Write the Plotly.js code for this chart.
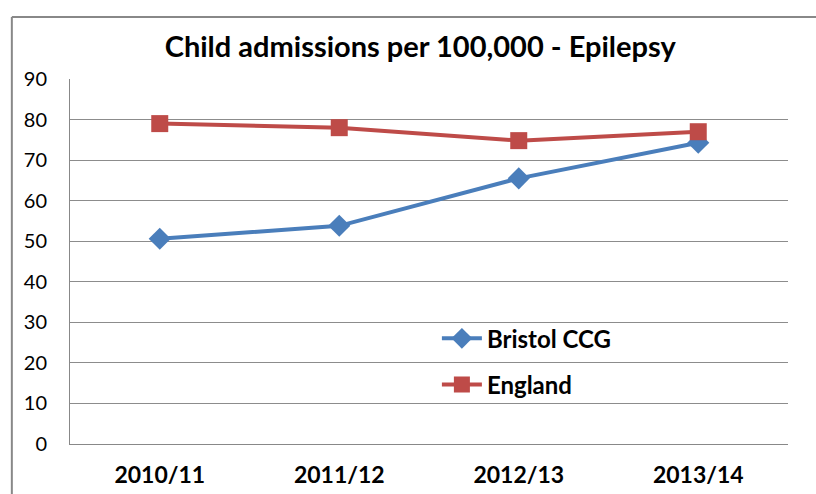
<!DOCTYPE html>
<html><head><meta charset="utf-8">
<script src="https://cdn.plot.ly/plotly-3.0.1.min.js"></script>
<style>html,body{margin:0;padding:0;background:#fff}#chart{width:816px;height:494px}</style>
</head><body><div id="chart"></div>
<script>
const categories = ["2010/11", "2011/12", "2012/13", "2013/14"];
const bristol = [50.6, 53.8, 65.5, 74.3];
const england = [79.0, 78.0, 74.8, 77.0];
const yTicks = [0, 10, 20, 30, 40, 50, 60, 70, 80, 90];

const font = "Lato, 'Open Sans', sans-serif";
const traces = [
  {x: categories, y: bristol, name: "Bristol CCG", type: "scatter", mode: "lines+markers",
   legendgroup: "a",
   line: {color: "#4A7EBB", width: 4}, marker: {symbol: "diamond", size: 17, color: "#4A7EBB"}},
  {x: categories, y: england, name: "England", type: "scatter", mode: "lines+markers",
   legendgroup: "b",
   line: {color: "#BE4B48", width: 4}, marker: {symbol: "square", size: 17, color: "#BE4B48"}}
];
const layout = {
  width: 816, height: 494,
  margin: {l: 70, r: 28, t: 79, b: 50},
  paper_bgcolor: "#fff", plot_bgcolor: "#fff",
  title: {text: "<b>Child admissions per 100,000 - Epilepsy</b>", font: {family: font, size: 29, color: "#000"},
          x: 0.515, xanchor: "center", y: 0.905, yanchor: "middle"},
  xaxis: {type: "category", range: [-0.5, 3.5], showgrid: false, showline: true, linecolor: "#888", linewidth: 1,
          ticks: "", tickfont: {family: font, size: 23, color: "#000", weight: "bold"}, ticklabelstandoff: 10, fixedrange: true},
  yaxis: {range: [0, 90], tickvals: yTicks, showgrid: true, gridcolor: "#8c8c8c", gridwidth: 1,
          showline: true, linecolor: "#888", linewidth: 1, ticks: "", zeroline: false,
          tickfont: {family: font, size: 20, color: "#000"}, ticklabelstandoff: 18, mirror: false},
  showlegend: true,
  legend: {x: 0.511, y: 0.35, xanchor: "left", yanchor: "top", bgcolor: "rgba(0,0,0,0)",
           font: {family: font, size: 24, color: "#000", weight: "bold"}, tracegroupgap: 12, itemwidth: 40},
  shapes: [
    {type: "line", xref: "paper", yref: "paper", x0: -0.081, x1: -0.081, y0: -0.2, y1: 1.17, line: {color: "#888", width: 2}},
    {type: "line", xref: "paper", yref: "paper", x0: -0.081, x1: 1.1, y0: 1.17, y1: 1.17, line: {color: "#888", width: 2}}
  ]
};
Plotly.newPlot("chart", traces, layout, {staticPlot: true});
</script></body></html>
